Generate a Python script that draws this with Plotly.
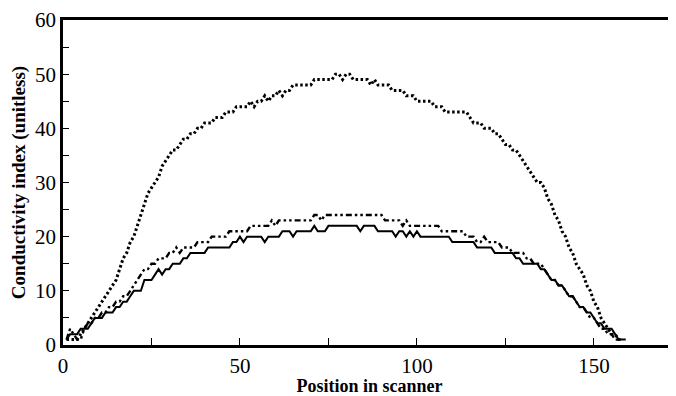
import plotly.graph_objects as go

# Position in scanner (integer positions)
positions = list(range(1, 160))

# Dotted series (highest curve, peak ~50)
dotted_values = [
    1, 1, 1, 1, 2, 3, 4, 5, 6, 7,
    8, 9, 10, 11, 12, 14, 16, 17, 19, 20,
    22, 24, 26, 28, 29, 30, 31, 33, 34, 35,
    36, 36, 37, 38, 38, 39, 39, 40, 40, 41,
    41, 41, 42, 42, 42, 43, 43, 43, 44, 44,
    44, 44, 45, 44, 45, 45, 46, 45, 46, 46,
    47, 46, 47, 47, 48, 48, 48, 48, 48, 48,
    49, 49, 49, 49, 49, 49, 50, 50, 49, 50,
    50, 49, 49, 49, 49, 49, 48, 49, 48, 48,
    48, 48, 47, 47, 47, 47, 46, 46, 46, 45,
    45, 45, 45, 45, 44, 44, 44, 43, 43, 43,
    43, 43, 43, 43, 42, 41, 41, 41, 40, 40,
    40, 39, 39, 38, 37, 37, 36, 36, 35, 34,
    33, 32, 31, 30, 30, 29, 27, 26, 24, 23,
    21, 20, 18, 17, 15, 14, 13, 11, 10, 8,
    7, 5, 4, 3, 2, 2, 1, 1, None,
]

# Dash-dot series (middle curve, peak ~24)
dashdot_values = [
    1, 3, 2, 1, 1, 3, 4, 4, 5, 5,
    6, 6, 7, 7, 8, 8, 9, 9, 10, 11,
    12, 13, 14, 14, 15, 15, 16, 16, 16, 17,
    17, 18, 17, 18, 18, 18, 18, 19, 19, 19,
    19, 20, 20, 20, 20, 20, 21, 21, 21, 21,
    21, 21, 22, 22, 22, 22, 22, 22, 23, 22,
    23, 23, 23, 23, 23, 23, 23, 23, 23, 23,
    24, 24, 23, 24, 24, 24, 24, 24, 24, 24,
    24, 24, 24, 24, 24, 24, 24, 24, 24, 24,
    23, 23, 23, 23, 23, 22, 23, 22, 22, 22,
    22, 22, 22, 22, 22, 22, 21, 21, 21, 21,
    21, 21, 21, 20, 20, 20, 19, 19, 20, 19,
    19, 19, 19, 18, 18, 18, 17, 17, 17, 17,
    16, 16, 15, 15, 15, 14, 13, 12, 12, 11,
    11, 10, 9, 9, 8, 7, 7, 6, 5, 5,
    4, 3, 3, 2, 2, 1, 1, None, None,
]

# Solid series (lowest curve, peak ~22)
solid_values = [
    1, 2, 2, 2, 3, 3, 3, 4, 5, 5,
    5, 6, 6, 6, 7, 7, 8, 8, 9, 10,
    10, 10, 12, 12, 12, 13, 14, 13, 14, 14,
    15, 15, 15, 16, 16, 17, 17, 17, 17, 17,
    18, 18, 18, 18, 18, 18, 18, 19, 19, 20,
    19, 20, 20, 20, 20, 20, 19, 20, 20, 20,
    20, 21, 21, 21, 20, 21, 21, 21, 21, 21,
    22, 21, 21, 21, 22, 22, 22, 22, 22, 22,
    22, 22, 22, 21, 22, 22, 22, 22, 21, 21,
    21, 21, 21, 20, 21, 21, 20, 21, 20, 21,
    20, 20, 20, 20, 20, 20, 20, 20, 20, 19,
    19, 19, 19, 19, 19, 19, 18, 18, 18, 18,
    18, 17, 17, 17, 17, 17, 17, 16, 16, 15,
    15, 15, 15, 15, 14, 14, 13, 12, 12, 11,
    11, 10, 9, 9, 8, 7, 7, 6, 6, 5,
    4, 4, 3, 3, 3, 2, 1, 1, 1,
]

x_tick_values = [0, 50, 100, 150]
y_tick_values = [0, 10, 20, 30, 40, 50, 60]

fig = go.Figure()
fig.add_trace(go.Scatter(
    x=positions, y=dotted_values, mode="lines",
    line=dict(color="black", width=3, dash="2.5px,2.5px"),
    showlegend=False,
))
fig.add_trace(go.Scatter(
    x=positions, y=dashdot_values, mode="lines",
    line=dict(color="black", width=2.4, dash="6px,3px,2.5px,3px,2.5px,3px"),
    showlegend=False,
))
fig.add_trace(go.Scatter(
    x=positions, y=solid_values, mode="lines",
    line=dict(color="black", width=2),
    showlegend=False,
))

serif = "Liberation Serif, Times New Roman, serif"
# The page body adds an 8px offset, so the figure is 8px smaller than the window.
fig.update_layout(
    width=668, height=388,
    margin=dict(l=55, r=0, t=10, b=50),
    paper_bgcolor="white", plot_bgcolor="white",
    font=dict(family=serif, color="black"),
    xaxis=dict(
        range=[0, 173.2], tickvals=x_tick_values,
        ticks="inside", ticklen=7, tickwidth=1.2, tickcolor="black",
        minor=dict(dtick=25, tick0=0, ticks="inside", ticklen=7, tickwidth=1.2, tickcolor="black"),
        showline=True, linewidth=2.8, linecolor="black", mirror=True,
        showgrid=False, zeroline=False,
        tickfont=dict(size=21, family=serif),
        ticklabeloverflow="allow",
        title=dict(text="<b>Position in scanner</b>", font=dict(size=18, family=serif), standoff=5),
    ),
    yaxis=dict(
        range=[0, 60], tickvals=y_tick_values,
        ticks="inside", ticklen=6, tickwidth=1.2, tickcolor="black",
        minor=dict(dtick=5, tick0=0, ticks="inside", ticklen=6, tickwidth=1.2, tickcolor="black"),
        showline=True, linewidth=2.8, linecolor="black",
        showgrid=False, zeroline=False,
        tickfont=dict(size=21, family=serif),
        ticklabeloverflow="allow",
        title=dict(text="<b>Conductivity index (unitless)</b>", font=dict(size=19, family=serif), standoff=6),
    ),
)

fig.write_html("out.html")
